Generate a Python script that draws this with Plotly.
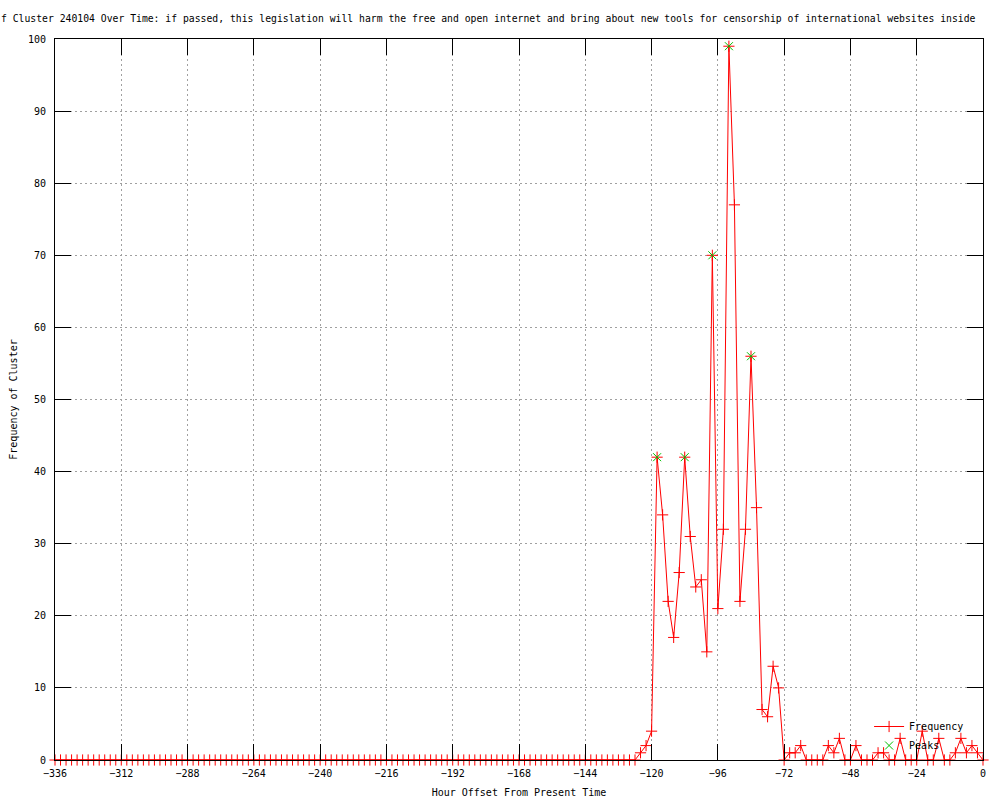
import plotly.graph_objects as go

# Hour offsets (2-hour bins) from -336 to 0
hours = list(range(-336, 1, 2))

# Frequency of cluster per 2-hour bin
frequency = [
    0, 0, 0, 0, 0, 0, 0, 0, 0, 0, 0, 0,   # -336 .. -314
    0, 0, 0, 0, 0, 0, 0, 0, 0, 0, 0, 0,   # -312 .. -290
    0, 0, 0, 0, 0, 0, 0, 0, 0, 0, 0, 0,   # -288 .. -266
    0, 0, 0, 0, 0, 0, 0, 0, 0, 0, 0, 0,   # -264 .. -242
    0, 0, 0, 0, 0, 0, 0, 0, 0, 0, 0, 0,   # -240 .. -218
    0, 0, 0, 0, 0, 0, 0, 0, 0, 0, 0, 0,   # -216 .. -194
    0, 0, 0, 0, 0, 0, 0, 0, 0, 0, 0, 0,   # -192 .. -170
    0, 0, 0, 0, 0, 0, 0, 0, 0, 0, 0, 0,   # -168 .. -146
    0, 0, 0, 0, 0, 0, 0, 0, 0, 0,         # -144 .. -126
    1, 2, 4, 42, 34, 22, 17, 26, 42, 31,  # -124 .. -106
    24, 25, 15, 70, 21, 32, 99, 77, 22, 32,  # -104 .. -86
    56, 35, 7, 6, 13, 10, 0, 1, 1, 2,     # -84 .. -66
    0, 0, 0, 0, 2, 1, 3, 0, 0, 2,         # -64 .. -46
    0, 0, 0, 1, 1, 0, 0, 3, 0, 0,         # -44 .. -26
    0, 4, 0, 0, 3, 0, 0, 1, 3, 1,         # -24 .. -6
    2, 1, 0,                              # -4 .. 0
]

peak_hours = [-118, -108, -98, -92, -84]
peak_values = [42, 42, 70, 99, 56]

x_ticks = list(range(-336, 1, 24))
y_ticks = list(range(0, 101, 10))

title_text = ("f Cluster 240104 Over Time: if passed, this legislation will harm the free "
              "and open internet and bring about new tools for censorship of international "
              "websites inside")

FONT = "DejaVu Sans Mono"

fig = go.Figure()
fig.add_trace(go.Scatter(
    x=hours, y=frequency, name="Frequency", mode="lines+markers",
    line=dict(color="#ff0000", width=1),
    marker=dict(symbol="cross-thin-open", size=8, line=dict(color="#ff0000", width=1), color="#ff0000"),
    cliponaxis=False,
))
fig.add_trace(go.Scatter(
    x=peak_hours, y=peak_values, name="Peaks", mode="markers",
    marker=dict(symbol="x-thin-open", size=8, line=dict(color="#00c000", width=1), color="#00c000"),
    cliponaxis=False,
))

axis_common = dict(
    showline=True, linecolor="black", linewidth=1, mirror="ticks",
    ticks="inside", ticklen=16, tickcolor="black", tickwidth=1,
    showgrid=True, gridcolor="#a0a0a0", griddash="2px,3px", gridwidth=1,
    zeroline=False, automargin=False,
    tickfont=dict(family=FONT, size=10, color="black"),
)

fig.update_layout(
    width=1000, height=800,
    margin=dict(l=55, r=17, t=39, b=40),
    paper_bgcolor="white", plot_bgcolor="white",
    font=dict(family=FONT, size=10, color="black"),
    title=dict(text=title_text, x=0.001, xref="container", xanchor="left",
               y=1 - 19 / 800, yref="container", yanchor="middle",
               font=dict(family=FONT, size=9.75, color="black")),
    xaxis=dict(range=[-336, 0], tickvals=x_ticks, ticklabelstandoff=4,
               title=dict(text="Hour Offset From Present Time", standoff=10,
                          font=dict(family=FONT, size=10)),
               **axis_common),
    yaxis=dict(range=[0, 100], tickvals=y_ticks, ticklabelstandoff=6,
               title=dict(text="Frequency of Cluster", standoff=8,
                          font=dict(family=FONT, size=10)),
               **axis_common),
    legend=dict(x=0.985, xanchor="right", y=0.0, yanchor="bottom",
                bgcolor="rgba(0,0,0,0)", font=dict(family=FONT, size=10),
                tracegroupgap=0, itemwidth=30),
    showlegend=True,
)

fig.write_html("out.html", config={"displayModeBar": False},
               post_script="document.body.style.margin='0';")
